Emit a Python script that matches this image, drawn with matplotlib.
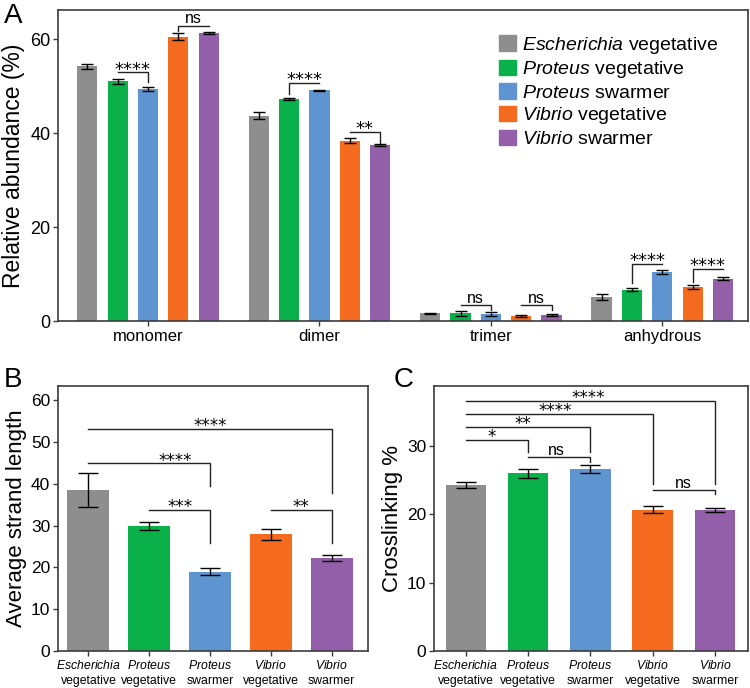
import matplotlib as mpl
import matplotlib.pyplot as plt
import numpy as np
from matplotlib.patches import Patch

mpl.rcParams.update({
    "font.family": ["Liberation Sans", "DejaVu Sans"],
    "mathtext.fontset": "custom",
    "mathtext.rm": "Liberation Sans",
    "mathtext.it": "Liberation Sans:italic",
    "axes.linewidth": 1.2,
    "axes.edgecolor": "#3c3c3c",
    "xtick.color": "#3c3c3c",
    "ytick.color": "#3c3c3c",
    "xtick.labelcolor": "black",
    "ytick.labelcolor": "black",
})

# ---- data ----
genus = ["Escherichia", "Proteus", "Proteus", "Vibrio", "Vibrio"]
state = ["vegetative", "vegetative", "swarmer", "vegetative", "swarmer"]
colors = ["#8E8E8E", "#0AB14A", "#5E94D0", "#F46A1F", "#935FA8"]

groups = ["monomer", "dimer", "trimer", "anhydrous"]
# rows = strains, columns = groups
abund_mean = np.array([
    [54.2, 43.7, 1.6, 5.1],
    [51.0, 47.3, 1.6, 6.7],
    [49.4, 49.1, 1.5, 10.5],
    [60.5, 38.4, 1.0, 7.2],
    [61.3, 37.4, 1.3, 9.0],
])
abund_err = np.array([
    [0.6, 0.7, 0.1, 0.6],
    [0.6, 0.2, 0.5, 0.3],
    [0.4, 0.1, 0.5, 0.4],
    [0.7, 0.5, 0.2, 0.4],
    [0.3, 0.2, 0.2, 0.3],
])

strand_mean = [38.6, 29.9, 19.0, 27.9, 22.3]
strand_err = [4.05, 1.0, 0.8, 1.4, 0.65]

cross_mean = [24.3, 26.0, 26.7, 20.7, 20.6]
cross_err = [0.4, 0.7, 0.6, 0.5, 0.3]

# brackets: (x1, x2, y, left leg end, right leg end, label[, text x])
pitch = 0.177
def gx(g, s):
    return g + (s - 2) * pitch

brk_a = [
    (gx(0, 1), gx(0, 2), 52.9, 52.9, 50.9, "****"),
    (gx(0, 3), gx(0, 4), 62.8, 61.8, 62.8, "ns"),
    (gx(1, 1), gx(1, 2), 50.6, 48.4, 50.6, "****"),
    (gx(1, 3), gx(1, 4), 40.3, 40.3, 37.8, "**"),
    (gx(2, 1), gx(2, 2), 3.3, 3.3, 2.3, "ns"),
    (gx(2, 3), gx(2, 4), 3.3, 3.3, 2.3, "ns"),
    (gx(3, 1), gx(3, 2), 12.1, 8.0, 12.1, "****"),
    (gx(3, 3), gx(3, 4), 11.1, 8.4, 11.1, "****"),
]
brk_b = [
    (0, 4, 53.2, 53.2, 37.8, "****", 2.0),
    (0, 2, 44.9, 44.9, 39.5, "****", 1.43),
    (1, 2, 33.8, 33.8, 25.9, "***", 1.5),
    (3, 4, 33.8, 33.8, 25.9, "**", 3.5),
]
brk_c = [
    (0, 4, 36.6, 36.6, 24.5, "****", 1.97),
    (0, 3, 34.7, 34.7, 24.5, "****", 1.43),
    (0, 2, 32.8, 32.8, 29.2, "**", 0.92),
    (0, 1, 30.9, 30.9, 29.2, "*", 0.42),
    (1, 2, 28.4, 28.4, 27.7, "ns", 1.46),
    (3, 4, 23.5, 23.5, 23.0, "ns", 3.5),
]

W, H = 750, 688
fig = plt.figure(figsize=(W / 100, H / 100), dpi=100, facecolor="white")


def px_axes(l, t, r, b):
    return fig.add_axes([l / W, 1 - b / H, (r - l) / W, (b - t) / H])


def bracket(ax, x1, x2, y, y1, y2, label, tx=None, star_fs=12, star_lift=2.8):
    ax.plot([x1, x1, x2, x2], [y1, y, y, y2], color="#222222", lw=1.0,
            solid_joinstyle="miter", zorder=5)
    if tx is None:
        tx = (x1 + x2) / 2
    if label == "ns":
        ax.annotate(label, (tx, y), xytext=(0, 1.8), textcoords="offset points",
                    ha="center", va="baseline", fontsize=11.5, zorder=6)
    else:
        ax.annotate(label, (tx, y), xytext=(0, -0.36 * star_fs + star_lift),
                    textcoords="offset points", ha="center", va="baseline",
                    fontsize=star_fs, family="DejaVu Sans", zorder=6)


def style(ax):
    ax.tick_params(direction="out", length=3.5, width=1.0, pad=2)


# ---- panel A ----
axA = px_axes(58, 10, 748, 321)
x = np.arange(len(groups))
for i in range(len(genus)):
    axA.bar(x + (i - 2) * pitch, abund_mean[i], width=0.118, color=colors[i],
            edgecolor="none", zorder=2)
    axA.errorbar(x + (i - 2) * pitch, abund_mean[i], yerr=abund_err[i], fmt="none",
                 ecolor="black", elinewidth=1.0, capsize=4, capthick=1.0, zorder=3)
for b in brk_a:
    bracket(axA, *b, star_fs=13, star_lift=3.2)
axA.set_xlim(-0.525, 3.5)
axA.set_ylim(0, 66.2)
axA.set_yticks([0, 20, 40, 60])
axA.set_xticks(x)
axA.set_xticklabels(groups, fontsize=12)
axA.tick_params(axis="y", labelsize=13)
style(axA)
axA.set_ylabel("Relative abundance (%)", fontsize=16.5, labelpad=4)
handles = [Patch(color=c) for c in colors]
labels = [r"$\mathit{%s}$ %s" % (g, s) for g, s in zip(genus, state)]
axA.legend(handles, labels, loc="upper left", bbox_to_anchor=(0.628, 0.945),
           frameon=False, fontsize=14, handlelength=0.85, handleheight=0.85,
           handletextpad=0.35, labelspacing=0.17, borderaxespad=0)


def panel(ax, means, errs, brks, ylim, yticks, ylabel, xlim, width):
    xs = np.arange(len(means))
    ax.bar(xs, means, width=width, color=colors, edgecolor="none", zorder=2)
    ax.errorbar(xs, means, yerr=errs, fmt="none", ecolor="black",
                elinewidth=1.0, capsize=7, capthick=1.0, zorder=3)
    for b in brks:
        bracket(ax, *b, star_fs=12, star_lift=2.6)
    ax.set_xlim(*xlim)
    ax.set_ylim(*ylim)
    ax.set_yticks(yticks)
    ax.set_xticks(xs)
    ax.set_xticklabels([r"$\mathit{%s}$" "\n" "%s" % (g, s) for g, s in zip(genus, state)],
                       fontsize=8.8, linespacing=1.35)
    ax.tick_params(axis="y", labelsize=12.5)
    style(ax)
    ax.set_ylabel(ylabel, fontsize=16)


# ---- panel B ----
axB = px_axes(58, 386, 368, 651)
panel(axB, strand_mean, strand_err, brk_b, (0, 63.4), [0, 10, 20, 30, 40, 50, 60],
      "Average strand length", (-0.5, 4.6), 0.69)
axB.yaxis.labelpad = 3

# ---- panel C ----
axC = px_axes(434, 386, 748, 651)
panel(axC, cross_mean, cross_err, brk_c, (0, 38.8), [0, 10, 20, 30],
      "Crosslinking %", (-0.51, 4.53), 0.65)
axC.yaxis.labelpad = 3

for ax in (axA, axB, axC):
    for sp in ax.spines.values():
        sp.set_zorder(10)

fig.text(13 / W, 1 - 16 / H, "A", fontsize=20, ha="center", va="center")
fig.text(13 / W, 1 - 380 / H, "B", fontsize=20, ha="center", va="center")
fig.text(404 / W, 1 - 380 / H, "C", fontsize=20, ha="center", va="center")

fig.savefig("out.png", dpi=100, facecolor="white")
